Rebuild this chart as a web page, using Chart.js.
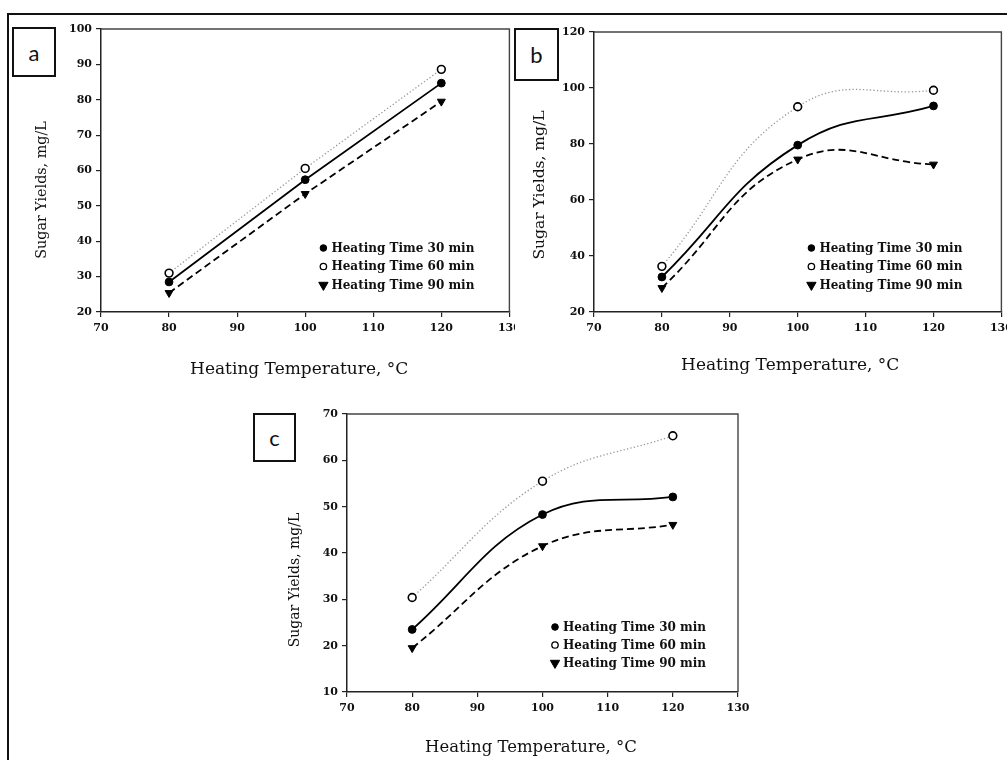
<!DOCTYPE html>
<html>
<head>
<meta charset="utf-8">
<script src="https://cdn.jsdelivr.net/npm/chart.js@4.4.1/dist/chart.umd.min.js"></script>
<style>
html, body { margin: 0; padding: 0; width: 1007px; height: 760px; overflow: hidden; background: #fff; }
#frame { position: absolute; left: 7px; top: 13px; width: 1100px; height: 800px; border-left: 2px solid #111; border-top: 2px solid #111; }
canvas { position: absolute; }
.plabel { position: absolute; box-sizing: border-box; border: 2px solid #111; background: #fff;
  font-family: Lato, "Open Sans", sans-serif; font-size: 22px; color: #111;
  display: flex; align-items: center; justify-content: center; }
</style>
</head>
<body>
<div id="frame"></div>
<canvas id="chartA" width="515" height="390" style="left:0px;top:0px"></canvas>
<canvas id="chartB" width="507" height="390" style="left:500px;top:0px"></canvas>
<canvas id="chartC" width="510" height="380" style="left:240px;top:380px"></canvas>
<div class="plabel" style="left:12px;top:27px;width:44px;height:50px">a</div>
<div class="plabel" style="left:514px;top:28px;width:45px;height:53px">b</div>
<div class="plabel" style="left:253px;top:413px;width:43px;height:49px">c</div>
<script>
// ---- data ----
const temperatures = [80, 100, 120];
const seriesLabels = ['Heating Time 30 min', 'Heating Time 60 min', 'Heating Time 90 min'];

const a30 = [28.5, 57.4, 84.7];
const a60 = [31.0, 60.6, 88.6];
const a90 = [25.4, 53.4, 79.5];

const b30 = [32.5, 79.6, 93.6];
const b60 = [36.3, 93.3, 99.2];
const b90 = [28.6, 74.5, 72.7];

const c30 = [23.5, 48.3, 52.1];
const c60 = [30.4, 55.5, 65.3];
const c90 = [19.5, 41.5, 46.1];

const xTickValues = [70, 80, 90, 100, 110, 120, 130];
const yTicksA = [20, 30, 40, 50, 60, 70, 80, 90, 100];
const yTicksB = [20, 40, 60, 80, 100, 120];
const yTicksC = [10, 20, 30, 40, 50, 60, 70];

const xTitle = 'Heating Temperature, \u00B0C';
const yTitle = 'Sugar Yields, mg/L';

// ---- styles ----
const seriesStyles = [
  { borderColor: '#000', borderWidth: 1.8, borderDash: [], pointStyle: 'circle', pointRadius: 3.9,
    pointRotation: 0, pointBackgroundColor: '#000', pointBorderColor: '#000', pointBorderWidth: 1 },
  { borderColor: '#999', borderWidth: 1.3, borderDash: [1.3, 2.2], pointStyle: 'circle', pointRadius: 3.9,
    pointRotation: 0, pointBackgroundColor: '#fff', pointBorderColor: '#000', pointBorderWidth: 1.6 },
  { borderColor: '#000', borderWidth: 1.8, borderDash: [7, 4], pointStyle: 'triangle', pointRadius: 4.6,
    pointRotation: 180, pointBackgroundColor: '#000', pointBorderColor: '#000', pointBorderWidth: 1 }
];
const legendMarkers = [
  { style: 'circle', r: 3.3, fill: '#000', stroke: '#000', lw: 1 },
  { style: 'circle', r: 3.2, fill: '#fff', stroke: '#000', lw: 1.3 },
  { style: 'triangle', r: 5.4, fill: '#000', stroke: '#000', lw: 1 }
];

function drawMarker(ctx, m, x, y) {
  ctx.save();
  ctx.fillStyle = m.fill; ctx.strokeStyle = m.stroke; ctx.lineWidth = m.lw;
  ctx.beginPath();
  if (m.style === 'circle') {
    ctx.arc(x, y, m.r, 0, Math.PI * 2);
  } else {
    const r = m.r;
    ctx.moveTo(x, y + r);
    ctx.lineTo(x - r * 0.866, y - r * 0.5);
    ctx.lineTo(x + r * 0.866, y - r * 0.5);
    ctx.closePath();
  }
  ctx.fill(); ctx.stroke();
  ctx.restore();
}

const boxPlugin = {
  id: 'plotBox',
  beforeDatasetsDraw(chart) {
    const { ctx, chartArea: ca } = chart;
    ctx.save();
    ctx.strokeStyle = '#444'; ctx.lineWidth = 1.4;
    ctx.beginPath();
    ctx.moveTo(ca.left, ca.top); ctx.lineTo(ca.right, ca.top); ctx.lineTo(ca.right, ca.bottom);
    ctx.stroke();
    ctx.restore();
  }
};

const titlePlugin = {
  id: 'panelTitles',
  afterDraw(chart, args, o) {
    const { ctx, chartArea: ca } = chart;
    ctx.save();
    ctx.fillStyle = '#111';
    ctx.textAlign = 'center'; ctx.textBaseline = 'middle';
    ctx.font = o.xSize + 'px "DejaVu Serif"';
    ctx.fillText(o.xText, (ca.left + ca.right) / 2 + o.xDx, ca.bottom + o.xDy);
    ctx.translate(ca.left + o.yDx, (ca.top + ca.bottom) / 2 + o.yDy);
    ctx.rotate(-Math.PI / 2);
    ctx.font = o.ySize + 'px "DejaVu Serif"';
    ctx.fillText(o.yText, 0, 0);
    ctx.restore();
  }
};

const legendPlugin = {
  id: 'insideLegend',
  afterDraw(chart, args, o) {
    const { ctx, chartArea: ca } = chart;
    ctx.save();
    ctx.font = 'bold ' + o.size + 'px "DejaVu Serif"';
    ctx.textAlign = 'left'; ctx.textBaseline = 'middle';
    chart.data.datasets.forEach((ds, i) => {
      const mx = ca.right + o.dx;
      const my = ca.bottom + o.dy + i * o.rowH;
      drawMarker(ctx, legendMarkers[i], mx, my);
      ctx.fillStyle = '#111';
      ctx.fillText(ds.label, mx + o.gap, my + 0.5);
    });
    ctx.restore();
  }
};

function makePanel(id, cfg) {
  const datasets = cfg.series.map((vals, i) => Object.assign({
    label: seriesLabels[i],
    data: temperatures.map((t, k) => ({ x: t, y: vals[k] })),
    tension: cfg.tension,
    fill: false
  }, seriesStyles[i]));
  const tickFont = { family: 'DejaVu Serif', size: 11, weight: 'bold' };
  return new Chart(document.getElementById(id), {
    type: 'line',
    data: { datasets },
    plugins: [boxPlugin, titlePlugin, legendPlugin],
    options: {
      responsive: false,
      animation: false,
      devicePixelRatio: 1,
      layout: { padding: { left: 0, top: cfg.padTop, right: cfg.padRight, bottom: 0 } },
      plugins: {
        legend: { display: false },
        tooltip: { enabled: false },
        panelTitles: { xText: xTitle, yText: yTitle, xSize: cfg.xSize, ySize: cfg.ySize,
          xDx: cfg.xDx, xDy: cfg.xDy, yDx: cfg.yDx, yDy: cfg.yDy },
        insideLegend: { size: 12, dx: cfg.legDx, dy: cfg.legDy, rowH: cfg.legRow, gap: 8 }
      },
      scales: {
        x: {
          type: 'linear', min: xTickValues[0], max: xTickValues[xTickValues.length - 1],
          afterBuildTicks: s => { s.ticks = xTickValues.map(v => ({ value: v })); },
          afterFit: s => { s.height = cfg.xH; s.paddingLeft = 0; s.paddingRight = 0; },
          grid: { drawOnChartArea: false, drawTicks: true, tickLength: 5, color: '#222', lineWidth: 1.2 },
          border: { display: true, color: '#222', width: 1.5 },
          ticks: { font: tickFont, color: '#111', padding: 5, maxRotation: 0, autoSkip: false }
        },
        y: {
          type: 'linear', min: cfg.yTicks[0], max: cfg.yTicks[cfg.yTicks.length - 1],
          afterBuildTicks: s => { s.ticks = cfg.yTicks.map(v => ({ value: v })); },
          afterFit: s => { s.width = cfg.yW; s.paddingTop = 0; s.paddingBottom = 0; },
          grid: { drawOnChartArea: false, drawTicks: true, tickLength: 5, color: '#222', lineWidth: 1.2 },
          border: { display: true, color: '#222', width: 1.5 },
          ticks: { font: tickFont, color: '#111', padding: 4, autoSkip: false }
        }
      }
    }
  });
}

makePanel('chartA', { series: [a30, a60, a90], yTicks: yTicksA, tension: 0,
  padTop: 29, padRight: 4, yW: 101, xH: 78,
  xSize: 17, ySize: 14.3, xDx: -6, xDy: 58, yDx: -59, yDy: 19.5,
  legDx: -186, legDy: -64, legRow: 18.5 });

makePanel('chartB', { series: [b30, b60, b90], yTicks: yTicksB, tension: 0.45,
  padTop: 32, padRight: 4, yW: 94, xH: 78,
  xSize: 17, ySize: 15.5, xDx: -7.5, xDy: 54, yDx: -54, yDy: 13,
  legDx: -190, legDy: -64, legRow: 18.5 });

makePanel('chartC', { series: [c30, c60, c90], yTicks: yTicksC, tension: 0.4,
  padTop: 34, padRight: 12, yW: 107, xH: 68,
  xSize: 16.5, ySize: 14, xDx: -11.5, xDy: 55.5, yDx: -52, yDy: 27,
  legDx: -183, legDy: -65, legRow: 18 });
</script>
</body>
</html>
